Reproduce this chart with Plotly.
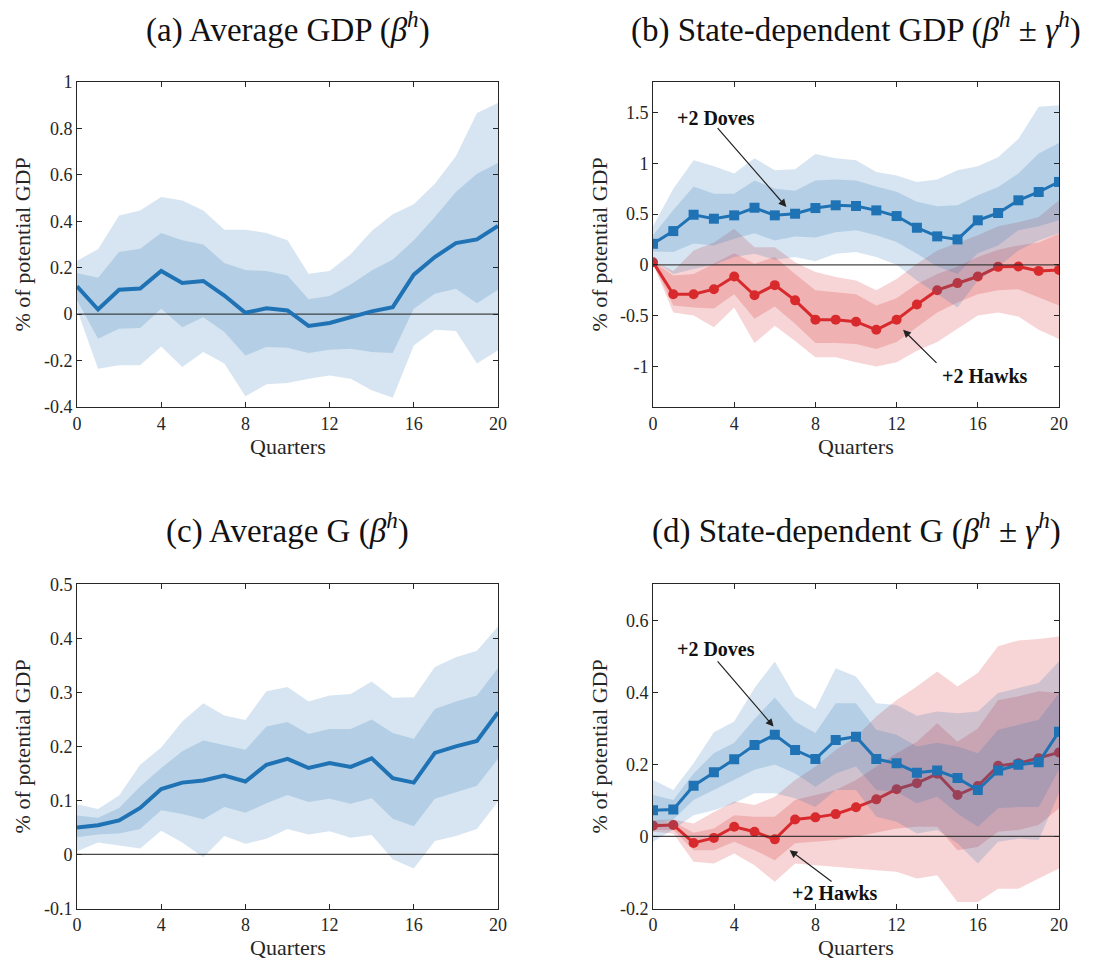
import plotly.graph_objects as go

quarters = list(range(21))

# Panel (a): Average GDP
a_line = [0.12, 0.02, 0.105, 0.11, 0.186, 0.134, 0.143, 0.08, 0.006, 0.025, 0.016,
          -0.051, -0.038, -0.012, 0.012, 0.03, 0.17, 0.246, 0.306, 0.322, 0.38]
a_out_up = [0.23, 0.28, 0.425, 0.447, 0.505, 0.49, 0.447, 0.364, 0.364, 0.35, 0.318,
            0.174, 0.186, 0.258, 0.358, 0.43, 0.473, 0.562, 0.68, 0.866, 0.91]
a_in_up = [0.177, 0.157, 0.268, 0.282, 0.35, 0.318, 0.3, 0.22, 0.19, 0.186, 0.167,
           0.064, 0.078, 0.128, 0.188, 0.235, 0.318, 0.418, 0.526, 0.605, 0.651]
a_in_lo = [0.06, -0.106, -0.063, -0.06, 0.023, -0.056, -0.013, -0.077, -0.178, -0.142, -0.145,
           -0.167, -0.153, -0.149, -0.163, -0.167, 0.023, 0.088, 0.109, 0.047, 0.105]
a_out_lo = [0.02, -0.235, -0.22, -0.22, -0.139, -0.228, -0.163, -0.213, -0.354, -0.302, -0.297,
            -0.278, -0.264, -0.278, -0.328, -0.36, -0.135, -0.067, -0.073, -0.213, -0.156]

# Panel (b): State-dependent GDP
b_dove = [0.207, 0.332, 0.493, 0.454, 0.487, 0.562, 0.487, 0.503, 0.559, 0.586, 0.579,
          0.536, 0.48, 0.365, 0.28, 0.25, 0.438, 0.51, 0.635, 0.717, 0.816]
b_dove_out_up = [0.38, 0.75, 1.03, 0.97, 0.9, 1.05, 0.93, 0.94, 1.09, 1.05, 1.03,
                 0.914, 0.88, 0.816, 0.84, 0.93, 0.97, 1.06, 1.24, 1.556, 1.57]
b_dove_in_up = [0.29, 0.54, 0.77, 0.7, 0.7, 0.83, 0.75, 0.73, 0.83, 0.84, 0.83,
                0.77, 0.72, 0.62, 0.576, 0.586, 0.684, 0.766, 0.9, 1.095, 1.2]
b_dove_in_lo = [0.13, 0.125, 0.21, 0.19, 0.257, 0.31, 0.24, 0.28, 0.27, 0.32, 0.34,
                0.29, 0.224, 0.11, -0.016, -0.09, 0.115, 0.19, 0.34, 0.38, 0.44]
b_dove_out_lo = [0.05, -0.09, -0.04, 0.0, 0.076, 0.11, 0.05, 0.076, 0.036, 0.11, 0.125,
                 0.076, 0.0, -0.155, -0.29, -0.42, -0.155, -0.02, 0.14, 0.24, 0.31]
b_hawk = [0.026, -0.29, -0.29, -0.24, -0.115, -0.30, -0.20, -0.35, -0.54, -0.54, -0.56,
          -0.64, -0.54, -0.39, -0.25, -0.18, -0.115, -0.02, -0.016, -0.06, -0.05]
b_hawk_out_up = [0.04, -0.06, 0.14, 0.22, 0.355, 0.174, 0.174, 0.026, -0.07, -0.12, -0.155,
                 -0.25, -0.14, 0.01, 0.14, 0.214, 0.29, 0.38, 0.42, 0.47, 0.635]
b_hawk_in_up = [0.035, -0.105, -0.09, 0.016, 0.115, 0.01, 0.076, -0.09, -0.25, -0.27, -0.29,
                -0.40, -0.33, -0.19, -0.09, -0.016, 0.076, 0.148, 0.19, 0.22, 0.306]
b_hawk_in_lo = [0.015, -0.40, -0.42, -0.43, -0.29, -0.53, -0.41, -0.58, -0.77, -0.77, -0.78,
                -0.83, -0.76, -0.615, -0.47, -0.37, -0.29, -0.25, -0.24, -0.32, -0.40]
b_hawk_out_lo = [0.01, -0.47, -0.5, -0.615, -0.42, -0.77, -0.6, -0.75, -0.91, -0.91, -0.96,
                 -1.0, -0.96, -0.845, -0.76, -0.63, -0.5, -0.47, -0.51, -0.64, -0.73]

# Panel (c): Average G
c_line = [0.05, 0.054, 0.063, 0.086, 0.121, 0.133, 0.137, 0.146, 0.135, 0.166, 0.177,
          0.16, 0.169, 0.162, 0.178, 0.141, 0.133, 0.188, 0.2, 0.21, 0.263]
c_out_up = [0.093, 0.084, 0.109, 0.166, 0.198, 0.246, 0.28, 0.257, 0.249, 0.302, 0.31,
            0.283, 0.294, 0.297, 0.32, 0.29, 0.291, 0.347, 0.365, 0.377, 0.422]
c_in_up = [0.072, 0.068, 0.086, 0.126, 0.16, 0.191, 0.211, 0.203, 0.194, 0.237, 0.245,
           0.223, 0.232, 0.232, 0.25, 0.225, 0.214, 0.269, 0.283, 0.294, 0.345]
c_in_lo = [0.032, 0.037, 0.039, 0.047, 0.082, 0.075, 0.065, 0.088, 0.077, 0.095, 0.11,
           0.097, 0.103, 0.094, 0.104, 0.066, 0.052, 0.103, 0.115, 0.127, 0.177]
c_out_lo = [0.006, 0.022, 0.017, 0.011, 0.044, 0.022, -0.005, 0.034, 0.02, 0.029, 0.047,
            0.037, 0.043, 0.031, 0.036, -0.009, -0.026, 0.025, 0.034, 0.047, 0.098]

# Panel (d): State-dependent G
d_dove = [0.073, 0.075, 0.141, 0.178, 0.214, 0.254, 0.282, 0.24, 0.215, 0.268, 0.277,
          0.215, 0.203, 0.177, 0.183, 0.162, 0.129, 0.183, 0.199, 0.206, 0.291]
d_dove_out_up = [0.157, 0.129, 0.203, 0.289, 0.319, 0.412, 0.486, 0.389, 0.354, 0.467, 0.444,
                 0.37, 0.365, 0.335, 0.347, 0.342, 0.347, 0.398, 0.412, 0.426, 0.486]
d_dove_in_up = [0.115, 0.101, 0.175, 0.231, 0.26, 0.326, 0.386, 0.319, 0.287, 0.37, 0.37,
                0.296, 0.282, 0.25, 0.26, 0.25, 0.231, 0.296, 0.31, 0.324, 0.398]
d_dove_in_lo = [0.032, 0.047, 0.101, 0.129, 0.157, 0.185, 0.2, 0.175, 0.138, 0.175, 0.194,
                0.129, 0.124, 0.092, 0.11, 0.064, 0.027, 0.078, 0.082, 0.082, 0.185]
d_dove_out_lo = [-0.015, 0.019, 0.059, 0.073, 0.092, 0.12, 0.12, 0.106, 0.082, 0.129, 0.129,
                 0.055, 0.041, 0.008, 0.018, -0.019, -0.075, -0.015, -0.006, -0.01, 0.12]
d_hawk = [0.03, 0.032, -0.018, -0.004, 0.027, 0.013, -0.008, 0.047, 0.053, 0.062, 0.081,
          0.103, 0.131, 0.148, 0.174, 0.115, 0.14, 0.196, 0.203, 0.217, 0.233]
d_hawk_out_up = [0.046, 0.047, 0.036, 0.068, 0.097, 0.087, 0.11, 0.157, 0.194, 0.24, 0.277,
                 0.333, 0.379, 0.416, 0.458, 0.416, 0.454, 0.528, 0.544, 0.548, 0.555]
d_hawk_in_up = [0.036, 0.041, 0.01, 0.022, 0.059, 0.055, 0.055, 0.101, 0.115, 0.129, 0.157,
                0.194, 0.231, 0.263, 0.314, 0.263, 0.3, 0.379, 0.389, 0.403, 0.398]
d_hawk_in_lo = [0.018, 0.018, -0.038, -0.038, -0.015, -0.038, -0.066, -0.019, -0.015, -0.01, -0.001,
                0.01, 0.022, 0.027, 0.027, -0.038, -0.029, 0.013, 0.018, 0.032, 0.078]
d_hawk_out_lo = [0.013, 0.008, -0.07, -0.075, -0.047, -0.08, -0.126, -0.075, -0.08, -0.084, -0.089,
                 -0.094, -0.098, -0.117, -0.108, -0.182, -0.182, -0.145, -0.145, -0.117, -0.089]

titles = ["(a) Average GDP (<i>β</i><sup><i>h</i></sup>)",
          "(b) State-dependent GDP (<i>β</i><sup><i>h</i></sup> ± <i>γ</i><sup><i>h</i></sup>)",
          "(c) Average G (<i>β</i><sup><i>h</i></sup>)",
          "(d) State-dependent G (<i>β</i><sup><i>h</i></sup> ± <i>γ</i><sup><i>h</i></sup>)"]
x_ticks = [0, 4, 8, 12, 16, 20]
x_title = "Quarters"
y_title = "% of potential GDP"

BLUE = "rgb(31,114,180)"
RED = "rgb(216,42,44)"
BLUE_F = "rgba(31,114,180,0.185)"
RED_F = "rgba(216,42,44,0.2)"
FONT = "Liberation Serif"
INK = "#262626"

fig = go.Figure()


def band(xa, ya, up, lo, fillc):
    fig.add_trace(go.Scatter(x=quarters + quarters[::-1], y=up + lo[::-1], fill="toself",
                             fillcolor=fillc, line=dict(width=0), mode="lines",
                             hoverinfo="skip", showlegend=False, xaxis=xa, yaxis=ya))


def zero(xa, ya):
    fig.add_trace(go.Scatter(x=[quarters[0], quarters[-1]], y=[0, 0], mode="lines",
                             line=dict(color="rgba(40,40,40,0.85)", width=1.3),
                             hoverinfo="skip", showlegend=False, xaxis=xa, yaxis=ya))


def line(xa, ya, y, color, symbol=None, width=4):
    if symbol is None:
        fig.add_trace(go.Scatter(x=quarters, y=y, mode="lines", line=dict(color=color, width=width),
                                 showlegend=False, xaxis=xa, yaxis=ya))
    else:
        fig.add_trace(go.Scatter(x=quarters, y=y, mode="lines+markers",
                                 line=dict(color=color, width=width),
                                 marker=dict(symbol=symbol, size=10, color=color),
                                 showlegend=False, xaxis=xa, yaxis=ya))


# (a)
band("x", "y", a_out_up, a_out_lo, BLUE_F)
band("x", "y", a_in_up, a_in_lo, BLUE_F)
zero("x", "y")
line("x", "y", a_line, BLUE)

# (b)
band("x2", "y2", b_hawk_out_up, b_hawk_out_lo, RED_F)
band("x2", "y2", b_hawk_in_up, b_hawk_in_lo, RED_F)
line("x2", "y2", b_hawk, RED, "circle", 3)
band("x2", "y2", b_dove_out_up, b_dove_out_lo, BLUE_F)
band("x2", "y2", b_dove_in_up, b_dove_in_lo, BLUE_F)
zero("x2", "y2")
line("x2", "y2", b_dove, BLUE, "square", 3)

# (c)
band("x3", "y3", c_out_up, c_out_lo, BLUE_F)
band("x3", "y3", c_in_up, c_in_lo, BLUE_F)
zero("x3", "y3")
line("x3", "y3", c_line, BLUE)

# (d)
band("x4", "y4", d_hawk_out_up, d_hawk_out_lo, RED_F)
band("x4", "y4", d_hawk_in_up, d_hawk_in_lo, RED_F)
line("x4", "y4", d_hawk, RED, "circle", 3)
band("x4", "y4", d_dove_out_up, d_dove_out_lo, BLUE_F)
band("x4", "y4", d_dove_in_up, d_dove_in_lo, BLUE_F)
zero("x4", "y4")
line("x4", "y4", d_dove, BLUE, "square", 3)

W, H = 1109, 963
col_px = [(77, 498), (653, 1059)]
row_px = [(82, 407), (584.3, 908.5)]
col_x = [[a / W, b / W] for a, b in col_px]
row_y = [[1 - b / H, 1 - a / H] for a, b in row_px]

axis_common = dict(showline=True, mirror="allticks", linecolor=INK, linewidth=1,
                   ticks="inside", ticklen=5, tickcolor=INK, showgrid=False,
                   zeroline=False, automargin=False,
                   tickfont=dict(family=FONT, size=18, color=INK))

yspecs = [
    dict(range=[-0.4, 1.0], tickvals=[-0.4, -0.2, 0, 0.2, 0.4, 0.6, 0.8, 1],
         ticktext=["-0.4", "-0.2", "0", "0.2", "0.4", "0.6", "0.8", "1"]),
    dict(range=[-1.4, 1.8], tickvals=[-1, -0.5, 0, 0.5, 1, 1.5],
         ticktext=["-1", "-0.5", "0", "0.5", "1", "1.5"]),
    dict(range=[-0.1, 0.5], tickvals=[-0.1, 0, 0.1, 0.2, 0.3, 0.4, 0.5],
         ticktext=["-0.1", "0", "0.1", "0.2", "0.3", "0.4", "0.5"]),
    dict(range=[-0.2, 0.7], tickvals=[-0.2, 0, 0.2, 0.4, 0.6],
         ticktext=["-0.2", "0", "0.2", "0.4", "0.6"]),
]

layout = dict(width=W, height=H, margin=dict(l=0, r=0, t=0, b=0, pad=0),
              paper_bgcolor="white", plot_bgcolor="white",
              font=dict(family=FONT, color=INK), showlegend=False)

for i in range(4):
    r, c = divmod(i, 2)
    sfx = "" if i == 0 else str(i + 1)
    layout["xaxis" + sfx] = dict(domain=col_x[c], anchor="y" + sfx, range=[0, 20],
                                 tickvals=x_ticks, ticktext=[str(v) for v in x_ticks],
                                 **axis_common)
    layout["yaxis" + sfx] = dict(domain=row_y[r], anchor="x" + sfx, **yspecs[i], **axis_common)

fig.update_layout(**layout)

# Panel titles
title_cy = [28, 528]
for i, t in enumerate(titles):
    r, c = divmod(i, 2)
    fig.add_annotation(text=t, xref="paper", yref="paper",
                       x=(col_x[c][0] + col_x[c][1]) / 2, y=1 - title_cy[r] / H,
                       xanchor="center", yanchor="middle", showarrow=False,
                       font=dict(family=FONT, size=33, color="#111111"))

# Axis titles
ytitle_cx = [22, 599]
xtitle_cy = [447, 947]
for r in range(2):
    for c in range(2):
        cx = (col_px[c][0] + col_px[c][1]) / 2
        cy = (row_px[r][0] + row_px[r][1]) / 2
        fig.add_annotation(text=x_title, xref="paper", yref="paper", x=cx / W,
                           y=1 - xtitle_cy[r] / H, xanchor="center", yanchor="middle",
                           showarrow=False, font=dict(family=FONT, size=22, color=INK))
        fig.add_annotation(text=y_title, xref="paper", yref="paper", x=ytitle_cx[c] / W,
                           y=1 - cy / H, xanchor="center", yanchor="middle", textangle=-90,
                           showarrow=False, font=dict(family=FONT, size=22, color=INK))

# Labels with arrows
labels = [
    ("x2", "y2", "<b>+2 Doves</b>", 3.12, 1.45, 3.12, 1.36, 6.57, 0.569),
    ("x2", "y2", "<b>+2 Hawks</b>", 16.34, -1.09, 14.04, -0.98, 12.32, -0.64),
    ("x4", "y4", "<b>+2 Doves</b>", 3.12, 0.52, 3.12, 0.49, 5.94, 0.305),
    ("x4", "y4", "<b>+2 Hawks</b>", 8.95, -0.158, 8.87, -0.128, 6.73, -0.038),
]
for xa, ya, txt, tx, ty, ax, ay, hx, hy in labels:
    fig.add_annotation(text=txt, xref=xa, yref=ya, x=tx, y=ty, showarrow=False,
                       font=dict(family=FONT, size=20, color="#111111"))
    fig.add_annotation(text="", xref=xa, yref=ya, x=hx, y=hy, axref=xa, ayref=ya,
                       ax=ax, ay=ay, showarrow=True, arrowhead=2, arrowsize=1.3,
                       arrowwidth=1.2, arrowcolor="#222222")

fig.write_html("out.html", config={"displayModeBar": False},
               post_script="document.body.style.margin='0';document.body.style.overflow='hidden';")
